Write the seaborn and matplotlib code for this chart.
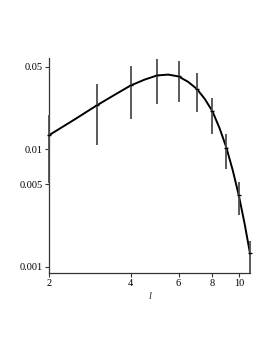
import numpy as np
import pandas as pd
import seaborn as sns
import matplotlib
matplotlib.use("Agg")
import matplotlib.pyplot as plt
from matplotlib.ticker import FixedLocator, NullLocator, FixedFormatter

# fitted curve
curve_l = [2, 2.5, 3, 3.5, 4, 4.5, 5, 5.5, 6, 6.5, 7, 7.5, 8, 8.5, 9, 9.5, 10, 10.5, 11]
curve_v = [0.0131, 0.0180, 0.0235, 0.0290, 0.0347, 0.0389, 0.0422, 0.0429, 0.0414,
           0.0373, 0.0325, 0.0266, 0.0209, 0.0150, 0.0103, 0.00661, 0.00405,
           0.00234, 0.0013]

# measured points with error bars
pt_l = [2, 3, 4, 5, 6, 7, 8, 9, 10, 11]
pt_v = [0.0131, 0.0235, 0.0347, 0.0422, 0.0414, 0.0325, 0.0209, 0.0103, 0.00405, 0.0013]
pt_lo = [0.0051, 0.0109, 0.0181, 0.0243, 0.0251, 0.0206, 0.0135, 0.0068, 0.00277, 0.00089]
pt_hi = [0.0193, 0.0359, 0.0506, 0.0585, 0.0565, 0.0441, 0.0271, 0.0133, 0.00525, 0.00165]

x_ticks = [2, 4, 6, 8, 10]
y_ticks = [0.001, 0.005, 0.01, 0.05]
y_tick_labels = ["0.001", "0.005", "0.01", "0.05"]

sns.set_style("ticks")
plt.rcParams["font.family"] = ["Liberation Serif", "DejaVu Serif"]

fig = plt.figure(figsize=(2.73, 3.53), dpi=100)
ax = fig.add_axes([0.1795, 0.2275, 0.7363, 0.6073])

curve = pd.DataFrame({"l": curve_l, "v": curve_v})
sns.lineplot(data=curve, x="l", y="v", ax=ax, color="black", linewidth=1.4,
             estimator=None, sort=True)

ax.vlines(pt_l, pt_lo, pt_hi, color="#4d4d4d", linewidth=1.3, zorder=3, clip_on=False)
ax.plot(pt_l, pt_v, linestyle="none", marker="_", markersize=3,
        markeredgewidth=1.0, color="black", zorder=4, clip_on=False)

ax.set_xscale("log")
ax.set_yscale("log")
ax.set_xlim(2, 11)
ax.set_ylim(0.00089, 0.059)

ax.xaxis.set_major_locator(FixedLocator(x_ticks))
ax.xaxis.set_major_formatter(FixedFormatter([str(t) for t in x_ticks]))
ax.xaxis.set_minor_locator(NullLocator())
ax.yaxis.set_major_locator(FixedLocator(y_ticks))
ax.yaxis.set_major_formatter(FixedFormatter(y_tick_labels))
ax.yaxis.set_minor_locator(NullLocator())

ax.tick_params(axis="both", length=3, width=0.8, pad=1.5, labelsize=7.5,
               color="#333333", labelcolor="black")
for side in ["left", "bottom"]:
    ax.spines[side].set_linewidth(0.9)
    ax.spines[side].set_color("#333333")
sns.despine(ax=ax)

ax.set_xlabel("l", fontsize=7.5, fontstyle="italic", labelpad=3)
ax.set_ylabel("")

fig.savefig("out.png", dpi=100)
